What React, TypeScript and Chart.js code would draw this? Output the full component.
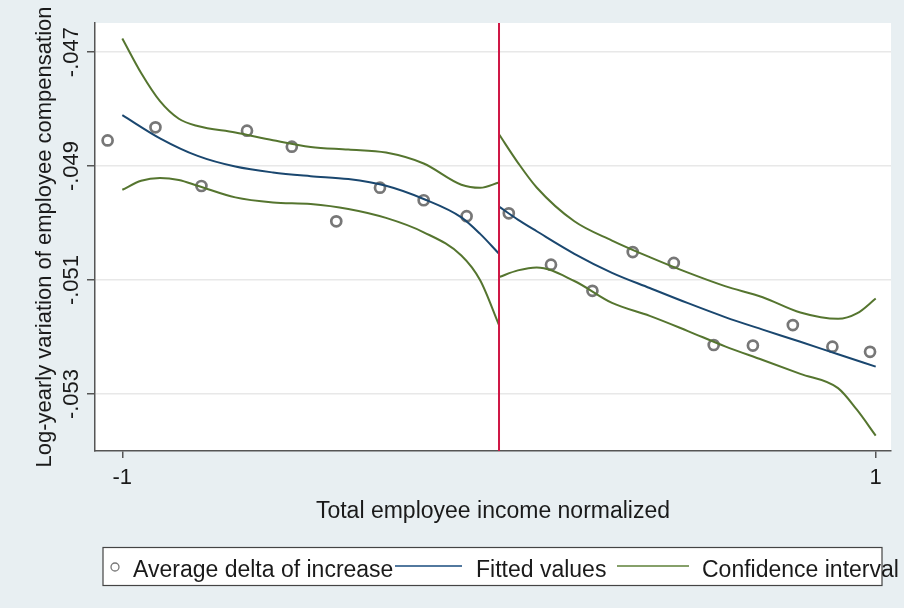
import { useEffect, useRef } from 'react'
import Chart from 'chart.js/auto'

// bin averages (scatter)
const binX = [
  -1.039, -0.912, -0.79, -0.669, -0.55, -0.432, -0.316, -0.2, -0.086,
  0.026, 0.138, 0.248, 0.355, 0.464, 0.57, 0.674, 0.78, 0.885, 0.985,
]
const binY = [
  -0.04855, -0.04832, -0.04935, -0.04838, -0.04866, -0.04997, -0.04938, -0.0496, -0.04988,
  -0.04983, -0.05073, -0.05119, -0.05051, -0.0507, -0.05214, -0.05215, -0.05179, -0.05217, -0.05226,
]

// fitted values, left of the cutoff
const fitLeftX = [-1, -0.9, -0.8, -0.7, -0.6, -0.5, -0.4, -0.3, -0.2, -0.1, -0.05, 0]
const fitLeftY = [
  -0.048106, -0.048513, -0.048822, -0.049009, -0.049113, -0.049177,
  -0.049229, -0.049346, -0.049578, -0.0499, -0.05019, -0.050539,
]

// fitted values, right of the cutoff
const fitRightX = [0, 0.05, 0.1, 0.2, 0.3, 0.4, 0.5, 0.6, 0.7, 0.8, 0.9, 1]
const fitRightY = [
  -0.049713, -0.04994, -0.050144, -0.050539, -0.050873, -0.05114,
  -0.051402, -0.05165, -0.05187, -0.052083, -0.052303, -0.05252,
]

// confidence bands, left
const ciLeftX = [-1, -0.95, -0.9, -0.85, -0.8, -0.7, -0.6, -0.5, -0.4, -0.3, -0.2, -0.1, -0.05, 0]
const ciLeftUpper = [
  -0.046761, -0.047367, -0.047861, -0.04817, -0.048298, -0.048411, -0.048548,
  -0.048665, -0.048711, -0.048764, -0.048956, -0.049328, -0.049381, -0.049288,
]
const ciLeftLower = [
  -0.049416, -0.049259, -0.049211, -0.049246, -0.049346, -0.04955, -0.049638,
  -0.049666, -0.049753, -0.04991, -0.050162, -0.05057, -0.051005, -0.051791,
]

// confidence bands, right
const ciRightX = [0, 0.05, 0.1, 0.2, 0.3, 0.4, 0.5, 0.6, 0.7, 0.8, 0.9, 0.95, 1]
const ciRightUpper = [
  -0.048443, -0.048939, -0.049376, -0.049969, -0.050307, -0.050598, -0.050866,
  -0.051107, -0.051302, -0.05157, -0.051681, -0.051587, -0.051325,
]
const ciRightLower = [
  -0.050948, -0.050831, -0.050778, -0.051017, -0.051402, -0.051629, -0.051891,
  -0.052163, -0.052403, -0.052647, -0.052897, -0.053276, -0.05373,
]

const xTicks = [-1, 1]
const yTicks = [-0.053, -0.051, -0.049, -0.047]
const cutoff = 0
const legendLabels = ['Average delta of increase', 'Fitted values', 'Confidence interval']

const FONT = "'Liberation Sans', Arial, sans-serif"
const NAVY = '#1a476f'
const GREEN = '#55752f'
const MARKER = '#777777'
const TEXT = '#1a1a1a'

const pts = (xs: number[], ys: number[]) => xs.map((x, i) => ({ x, y: ys[i] }))

const fmtY = (v: number) => v.toFixed(3).replace('0.', '.')

export default function App() {
  const canvasRef = useRef<HTMLCanvasElement>(null)
  const chartRef = useRef<Chart | null>(null)

  useEffect(() => {
    if (!canvasRef.current) return
    if (chartRef.current) chartRef.current.destroy()

    const curve = (label: string, data: { x: number; y: number }[], color: string) => ({
      type: 'line' as const,
      label,
      data,
      borderColor: color,
      backgroundColor: color,
      borderWidth: 2,
      pointRadius: 0,
      cubicInterpolationMode: 'monotone' as const,
      fill: false,
    })

    const decor = {
      id: 'decor',
      beforeDraw(chart: Chart) {
        const { ctx, chartArea } = chart
        ctx.save()
        ctx.fillStyle = '#ffffff'
        ctx.fillRect(chartArea.left, chartArea.top, chartArea.right - chartArea.left, chartArea.bottom - chartArea.top)
        ctx.restore()
      },
      afterDatasetsDraw(chart: Chart) {
        const { ctx, chartArea } = chart
        const x = chart.scales.x.getPixelForValue(cutoff)
        ctx.save()
        ctx.strokeStyle = '#cf1745'
        ctx.lineWidth = 2
        ctx.beginPath()
        ctx.moveTo(x, chartArea.top)
        ctx.lineTo(x, chartArea.bottom)
        ctx.stroke()
        ctx.restore()
      },
      afterDraw(chart: Chart) {
        const { ctx } = chart
        const ys = chart.scales.y
        ctx.save()
        // rotated y tick labels
        ctx.font = `22px ${FONT}`
        ctx.fillStyle = TEXT
        ctx.textAlign = 'center'
        ctx.textBaseline = 'middle'
        ys.ticks.forEach(t => {
          const py = ys.getPixelForValue(t.value)
          ctx.save()
          ctx.translate(72, py)
          ctx.rotate(-Math.PI / 2)
          ctx.fillText(fmtY(t.value), 0, 0)
          ctx.restore()
        })

        // legend box
        ctx.fillStyle = '#ffffff'
        ctx.fillRect(103, 547.5, 779, 38)
        ctx.strokeStyle = '#444'
        ctx.lineWidth = 1.2
        ctx.strokeRect(103, 547.5, 779, 38)

        ctx.strokeStyle = MARKER
        ctx.lineWidth = 1.3
        ctx.beginPath()
        ctx.arc(115, 567, 4, 0, Math.PI * 2)
        ctx.stroke()

        ctx.font = `23px ${FONT}`
        ctx.fillStyle = TEXT
        ctx.textAlign = 'left'
        ctx.textBaseline = 'alphabetic'
        ctx.fillText(legendLabels[0], 133, 577)

        ctx.strokeStyle = '#52789e'
        ctx.lineWidth = 2
        ctx.beginPath()
        ctx.moveTo(395, 566)
        ctx.lineTo(462, 566)
        ctx.stroke()
        ctx.fillText(legendLabels[1], 476, 577)

        ctx.strokeStyle = '#86a06a'
        ctx.beginPath()
        ctx.moveTo(617, 566)
        ctx.lineTo(689, 566)
        ctx.stroke()
        ctx.fillText(legendLabels[2], 702, 577)
        ctx.restore()
      },
    }

    chartRef.current = new Chart(canvasRef.current, {
      type: 'scatter',
      data: {
        datasets: [
          curve(legendLabels[1], pts(fitLeftX, fitLeftY), NAVY),
          curve(legendLabels[1], pts(fitRightX, fitRightY), NAVY),
          curve(legendLabels[2], pts(ciLeftX, ciLeftUpper), GREEN),
          curve(legendLabels[2], pts(ciLeftX, ciLeftLower), GREEN),
          curve(legendLabels[2], pts(ciRightX, ciRightUpper), GREEN),
          curve(legendLabels[2], pts(ciRightX, ciRightLower), GREEN),
          {
            type: 'scatter',
            label: legendLabels[0],
            data: pts(binX, binY),
            pointStyle: 'circle',
            pointRadius: 5,
            borderWidth: 2.7,
            pointBorderWidth: 2.7,
            borderColor: MARKER,
            pointBorderColor: MARKER,
            backgroundColor: 'rgba(0,0,0,0)',
            pointBackgroundColor: 'rgba(0,0,0,0)',
          },
        ],
      } as any,
      options: {
        animation: false,
        responsive: true,
        maintainAspectRatio: false,
        layout: { padding: { top: 23, right: 13, left: 0, bottom: 0 } },
        plugins: {
          legend: { display: false },
          tooltip: { enabled: false },
        },
        scales: {
          x: {
            type: 'linear',
            min: -1.0725,
            max: 1.0406,
            afterBuildTicks: scale => {
              scale.ticks = xTicks.map(v => ({ value: v }))
            },
            afterFit: scale => {
              scale.height = 157
            },
            ticks: {
              font: { family: FONT, size: 22 },
              color: TEXT,
              padding: 7,
              maxRotation: 0,
              callback: v => String(v),
            },
            grid: {
              drawOnChartArea: false,
              drawTicks: true,
              tickLength: 7,
              tickColor: '#555',
              lineWidth: 1.5,
            },
            border: { color: '#555', width: 1.5 },
            title: {
              display: true,
              text: 'Total employee income normalized',
              font: { family: FONT, size: 23 },
              color: TEXT,
              padding: { top: 0, bottom: 83 },
            },
          },
          y: {
            type: 'linear',
            min: -0.054,
            max: -0.04649,
            afterBuildTicks: scale => {
              scale.ticks = yTicks.map(v => ({ value: v }))
            },
            afterFit: scale => {
              scale.width = 95
            },
            ticks: { display: false },
            grid: {
              color: '#e8e8e8',
              lineWidth: 1.5,
              drawTicks: true,
              tickLength: 8,
              tickColor: '#555',
            },
            border: { color: '#555', width: 1.5 },
            title: {
              display: true,
              text: 'Log-yearly variation of employee compensation',
              font: { family: FONT, size: 22 },
              color: TEXT,
              padding: { top: 32, bottom: 0 },
            },
          },
        },
      },
      plugins: [decor],
    })

    return () => {
      if (chartRef.current) {
        chartRef.current.destroy()
        chartRef.current = null
      }
    }
  }, [])

  return (
    <div style={{ position: 'absolute', left: 0, top: 0, width: 904, height: 608, background: '#e8eff2' }}>
      <canvas ref={canvasRef} />
    </div>
  )
}
